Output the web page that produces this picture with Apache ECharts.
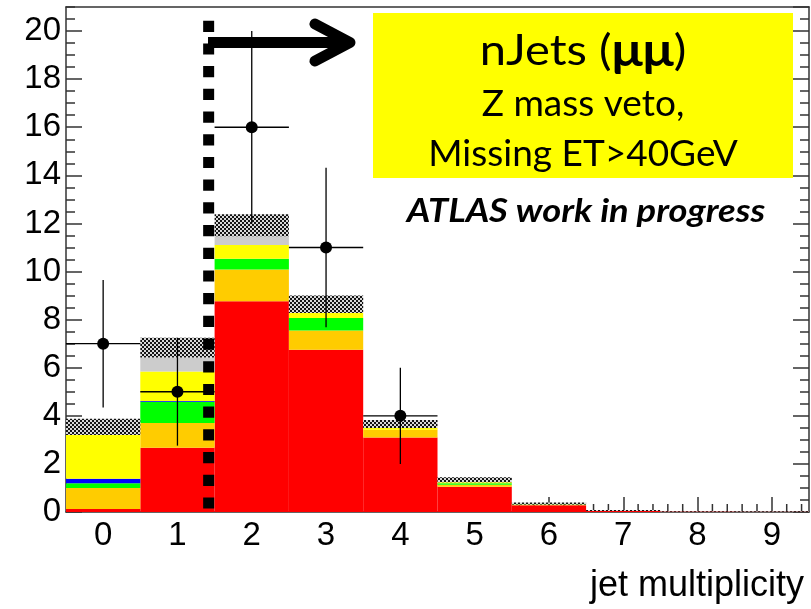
<!DOCTYPE html>
<html>
<head>
<meta charset="utf-8">
<script src="https://cdn.jsdelivr.net/npm/echarts@6/dist/echarts.min.js"></script>
<style>
  html, body { margin: 0; padding: 0; background: #ffffff; }
  #chart { width: 811px; height: 609px; }
</style>
</head>
<body>
<div id="chart"></div>
<script>
// Jet multiplicity bins (also the x tick labels)
const bins = ['0', '1', '2', '3', '4', '5', '6', '7', '8', '9'];
const yTickStep = 2;
const yMinorStep = 0.5;
const yMax = 21;

// Stacked MC contributions, bottom to top
const bkgRed    = [0.12, 2.67, 8.76, 6.75, 3.10, 1.05, 0.28, 0.04, 0.02, 0.015];
const bkgOrange = [0.88, 1.03, 1.32, 0.80, 0.32, 0.08, 0.03, 0, 0, 0];
const bkgGreen  = [0.20, 0.88, 0.45, 0.52, 0, 0.07, 0.01, 0, 0, 0];
const bkgBlue   = [0.18, 0.04, 0, 0, 0, 0, 0, 0, 0, 0];
const bkgYellow = [1.82, 1.22, 0.57, 0.21, 0.07, 0.04, 0, 0, 0, 0];
const bkgGray   = [0, 0.58, 0.37, 0, 0, 0, 0, 0, 0, 0];

// MC uncertainty band (lower / upper edge)
const bandLow  = [3.20, 6.42, 11.47, 8.28, 3.49, 1.24, 0.31, 0.04, 0.02, 0.015];
const bandHigh = [3.88, 7.25, 12.38, 9.00, 3.83, 1.44, 0.39, 0.08, 0.04, 0.03];

// Observed events and their errors
const dataCounts = [7, 5, 16, 11, 4, 0, 0, 0, 0, 0];
const dataErrors = [2.65, 2.24, 4.0, 3.32, 2.0, 0, 0, 0, 0, 0];

// Jet-count cut line (x position, y extent)
const cutX = 1.42;
const cutYRange = [20.43, 0.12];

// Minor tick positions on the jet axis (0.2 steps around each bin centre)
const xMinorTicks = [];
bins.forEach(function (b) {
  const v = Number(b);
  [-0.4, -0.2, 0.2, 0.4].forEach(function (d) { xMinorTicks.push(+(v + d).toFixed(2)); });
});

function hatchPattern() {
  const c = document.createElement('canvas');
  c.width = 4; c.height = 4;
  const g = c.getContext('2d');
  g.fillStyle = '#d8d8d8';
  g.fillRect(0, 0, 4, 4);
  g.fillStyle = '#141414';
  for (let x = 0; x < 4; x++) {
    for (let y = 0; y < 4; y++) {
      if ((Math.floor(x / 2) + Math.floor(y / 2)) % 2 === 0) g.fillRect(x, y, 1, 1);
    }
  }
  return { image: c, repeat: 'repeat' };
}
const hatch = hatchPattern();

const chart = echarts.init(document.getElementById('chart'), null, { renderer: 'canvas' });

const axisColor = '#333';
const sansFont = '"Liberation Sans", Arial, sans-serif';
const boxFont = 'Lato, sans-serif';

function stackSeries(name, values, color) {
  return {
    name: name, type: 'bar', stack: 'mc', xAxisIndex: 0, yAxisIndex: 0,
    barWidth: '100%', data: values, itemStyle: { color: color }, silent: true, z: 2
  };
}

function yAxisPair(pos, withLabels) {
  return [
    {
      type: 'value', position: pos, min: 0, max: yMax, interval: yTickStep,
      axisLine: { show: true, onZero: false, lineStyle: { color: axisColor, width: 1.5 } },
      axisTick: { show: true, inside: true, length: 16, lineStyle: { color: axisColor, width: 1.5 } },
      axisLabel: withLabels
        ? { show: true, margin: 5, showMaxLabel: false, fontFamily: sansFont, fontSize: 33, color: '#000' }
        : { show: false },
      splitLine: { show: false }
    },
    {
      type: 'value', position: pos, min: 0, max: yMax, interval: yMinorStep,
      axisLine: { show: false, onZero: false },
      axisTick: { show: true, inside: true, length: 9, lineStyle: { color: axisColor, width: 1.5 } },
      axisLabel: { show: false }, splitLine: { show: false }
    }
  ];
}

const option = {
  animation: false,
  backgroundColor: '#ffffff',
  grid: { left: 66, right: 2, top: 7, bottom: 97, containLabel: false, outerBoundsMode: 'none' },
  xAxis: [
    {
      type: 'category', data: bins, position: 'bottom', boundaryGap: true,
      axisLine: { show: true, onZero: false, lineStyle: { color: axisColor, width: 1.5 } },
      axisTick: { show: true, inside: true, alignWithLabel: true, interval: 0, length: 15, lineStyle: { color: axisColor, width: 1.5 } },
      axisLabel: { show: true, margin: 7, interval: 0, fontFamily: sansFont, fontSize: 33, color: '#000' },
      splitLine: { show: false },
      name: 'jet multiplicity', nameLocation: 'end', nameGap: -5,
      nameTextStyle: { fontFamily: sansFont, fontSize: 36, color: '#000', align: 'right', verticalAlign: 'top', padding: [56, 0, 0, 0] }
    },
    {
      type: 'value', position: 'bottom', min: -0.5, max: 9.5, show: false
    },
    {
      type: 'value', position: 'top', min: -0.5, max: 9.5,
      axisLine: { show: true, onZero: false, lineStyle: { color: axisColor, width: 1.5 } },
      axisTick: { show: false }, axisLabel: { show: false }, splitLine: { show: false }
    }
  ],
  yAxis: yAxisPair('left', true).concat(yAxisPair('right', false)),
  series: [
    {
      name: 'minor ticks', type: 'custom', xAxisIndex: 1, yAxisIndex: 0, silent: true, z: 1,
      data: xMinorTicks.map(function (v) { return [v, 0]; }),
      renderItem: function (params, api) {
        const p = api.coord([api.value(0), 0]);
        return {
          type: 'line',
          shape: { x1: p[0], y1: p[1], x2: p[0], y2: p[1] - 8 },
          style: { stroke: axisColor, lineWidth: 1.5 }
        };
      }
    },
    stackSeries('red', bkgRed, '#ff0000'),
    stackSeries('orange', bkgOrange, '#ffcc00'),
    stackSeries('green', bkgGreen, '#00ff00'),
    stackSeries('blue', bkgBlue, '#0000ff'),
    stackSeries('yellow', bkgYellow, '#ffff00'),
    stackSeries('gray', bkgGray, '#cccccc'),
    {
      name: 'MC uncertainty', type: 'custom', xAxisIndex: 0, yAxisIndex: 0, silent: true, z: 3,
      data: bins.map(function (b, i) { return [i, bandLow[i], bandHigh[i]]; }),
      renderItem: function (params, api) {
        const i = api.value(0), lo = api.value(1), hi = api.value(2);
        const top = api.coord([i, hi]);
        const bot = api.coord([i, lo]);
        const w = api.size([1, 0])[0];
        return {
          type: 'rect',
          shape: { x: top[0] - w / 2, y: top[1], width: w, height: bot[1] - top[1] },
          style: { fill: hatch }
        };
      }
    },
    {
      name: 'Data', type: 'custom', xAxisIndex: 0, yAxisIndex: 0, silent: true, z: 5,
      data: bins.map(function (b, i) { return [i, dataCounts[i], dataErrors[i]]; })
                .filter(function (d) { return d[1] > 0; }),
      renderItem: function (params, api) {
        const i = api.value(0), n = api.value(1), e = api.value(2);
        const c = api.coord([i, n]);
        const up = api.coord([i, n + e]);
        const dn = api.coord([i, n - e]);
        const w = api.size([1, 0])[0];
        const ls = { stroke: '#000', lineWidth: 1.3 };
        return {
          type: 'group',
          children: [
            { type: 'line', shape: { x1: c[0], y1: up[1], x2: c[0], y2: dn[1] }, style: ls },
            { type: 'line', shape: { x1: c[0] - w / 2, y1: c[1], x2: c[0] + w / 2, y2: c[1] }, style: ls },
            { type: 'circle', shape: { cx: c[0], cy: c[1], r: 6 }, style: { fill: '#000' } }
          ]
        };
      }
    },
    {
      name: 'cut', type: 'line', xAxisIndex: 1, yAxisIndex: 0, silent: true, z: 6,
      symbol: 'none',
      data: [[cutX, cutYRange[0]], [cutX, cutYRange[1]]],
      lineStyle: { color: '#000', width: 11, type: [11.2, 11.5], cap: 'butt' }
    }
  ],
  graphic: [
    {
      type: 'polyline', z: 100, silent: true,
      shape: { points: [[208, 42.5], [346, 42.5]] },
      style: { stroke: '#000', lineWidth: 11, lineCap: 'butt', fill: null }
    },
    {
      type: 'polyline', z: 100, silent: true,
      shape: { points: [[315, 24], [350, 42.5], [315, 61]] },
      style: { stroke: '#000', lineWidth: 11, lineCap: 'round', lineJoin: 'round', fill: null }
    },
    {
      type: 'rect', z: 100, silent: true,
      shape: { x: 373, y: 13, width: 420, height: 165 },
      style: { fill: '#ffff00' }
    },
    {
      type: 'text', z: 101, silent: true, x: 583, y: 51, scaleX: 1.12,
      style: {
        text: '{a|nJets (}{b|μμ}{a|)}', align: 'center', verticalAlign: 'middle',
        rich: {
          a: { fontFamily: boxFont, fontSize: 42, fill: '#000' },
          b: { fontFamily: boxFont, fontSize: 46, fontWeight: 'bold', fill: '#000' }
        }
      }
    },
    {
      type: 'text', z: 101, silent: true, x: 583, y: 104,
      style: { text: 'Z mass veto,', align: 'center', verticalAlign: 'middle', fontFamily: boxFont, fontSize: 37, fill: '#000' }
    },
    {
      type: 'text', z: 101, silent: true, x: 583, y: 154,
      style: { text: 'Missing ET>40GeV', align: 'center', verticalAlign: 'middle', fontFamily: boxFont, fontSize: 37, fill: '#000' }
    },
    {
      type: 'text', z: 101, silent: true, x: 586, y: 211, scaleX: 1.1,
      style: { text: 'ATLAS work in progress', align: 'center', verticalAlign: 'middle', fontFamily: boxFont, fontSize: 33, fontWeight: 'bold', fontStyle: 'italic', fill: '#000' }
    }
  ]
};

chart.setOption(option);
</script>
</body>
</html>
